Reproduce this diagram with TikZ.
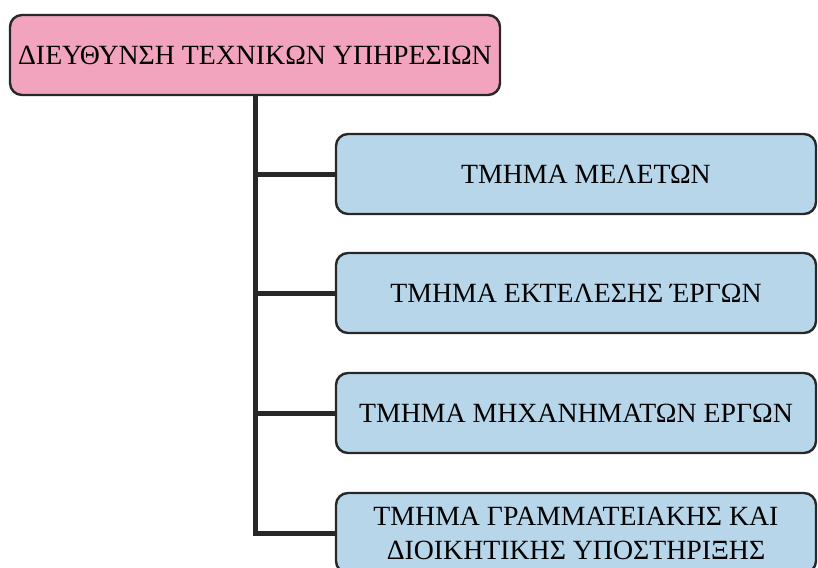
\documentclass[tikz,border=0pt]{standalone}
\usepackage{fontspec}
\setmainfont{Liberation Serif}
\definecolor{headpink}{RGB}{242,164,190}
\definecolor{deptblue}{RGB}{184,214,234}
\definecolor{edge}{RGB}{40,40,40}
\begin{document}
\begin{tikzpicture}[x=1pt,y=-1pt,
  orgbox/.style={draw=edge, line width=2.4pt, rounded corners=12pt,
    minimum height=80pt, align=center, font=\fontsize{27.8}{34}\selectfont, inner sep=0pt},
  headbox/.style={orgbox, fill=headpink, minimum width=490pt},
  deptbox/.style={orgbox, fill=deptblue, minimum width=480pt},
  link/.style={draw=edge, line width=5pt}]
\useasboundingbox (0,0) rectangle (818,567);
\clip (0,0) rectangle (818,567);
\fill[white] (0,0) rectangle (818,567);

\node[headbox] (head) at (255,55) {ΔΙΕΥΘΥΝΣΗ ΤΕΧΝΙΚΩΝ ΥΠΗΡΕΣΙΩΝ};
\node[deptbox] (d1) at (576,174) {\hspace*{20pt}ΤΜΗΜΑ ΜΕΛΕΤΩΝ};
\node[deptbox] (d2) at (576,293) {ΤΜΗΜΑ ΕΚΤΕΛΕΣΗΣ ΈΡΓΩΝ};
\node[deptbox] (d3) at (576,413) {ΤΜΗΜΑ ΜΗΧΑΝΗΜΑΤΩΝ ΕΡΓΩΝ};
\node[deptbox] (d4) at (576,533) {ΤΜΗΜΑ ΓΡΑΜΜΑΤΕΙΑΚΗΣ ΚΑΙ\\ΔΙΟΙΚΗΤΙΚΗΣ ΥΠΟΣΤΗΡΙΞΗΣ};

% trunk and branches
\draw[link, line join=miter] (head.south) |- (d4.west);
\foreach \d in {d1,d2,d3}
  \draw[link] (head.south |- \d.west) -- (\d.west);
\end{tikzpicture}
\end{document}
